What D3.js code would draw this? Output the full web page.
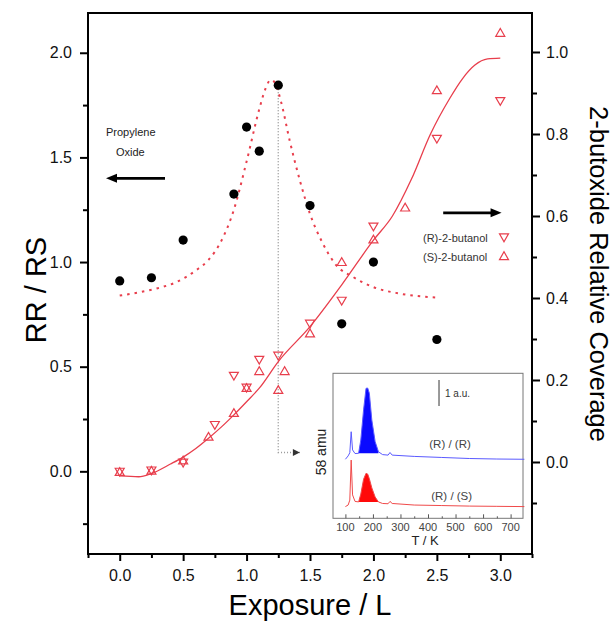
<!DOCTYPE html>
<html>
<head>
<meta charset="utf-8">
<script src="https://cdn.jsdelivr.net/npm/d3@7"></script>
<style>
  body { margin: 0; background: #fff; }
  text { font-family: "Liberation Sans", Arial, sans-serif; }
</style>
</head>
<body>
<div id="chart"></div>
<script>
// RR / RS ratio, black dots (left axis)
const ratioExposure = [0, 0.25, 0.5, 0.9, 1.0, 1.1, 1.25, 1.5, 1.75, 2.0, 2.5]
const ratioValues = [0.91, 0.925, 1.105, 1.325, 1.645, 1.53, 1.845, 1.27, 0.705, 1.0, 0.63]

// dotted fit through the ratio (left axis)
const ratioFitX = [0, 0.15, 0.3, 0.45, 0.6, 0.7, 0.8, 0.9, 1.0, 1.1, 1.15, 1.19, 1.22, 1.27, 1.34, 1.42, 1.5, 1.6, 1.7, 1.85, 2.0, 2.2, 2.5]
const ratioFitY = [0.84, 0.855, 0.875, 0.905, 0.96, 1.01, 1.1, 1.25, 1.48, 1.73, 1.83, 1.87, 1.86, 1.77, 1.58, 1.39, 1.23, 1.09, 0.99, 0.925, 0.88, 0.85, 0.83]

// (R)-2-butanol, down triangles (right axis)
const rExposure = [0, 0.25, 0.5, 0.75, 0.9, 1.0, 1.1, 1.25, 1.5, 1.75, 2.0, 2.5, 3.0]
const rCoverage = [-0.024, -0.021, -0.002, 0.09, 0.21, 0.181, 0.249, 0.259, 0.337, 0.393, 0.574, 0.788, 0.88]

// (S)-2-butanol, up triangles (right axis)
const sExposure = [0, 0.25, 0.5, 0.7, 0.9, 1.0, 1.1, 1.25, 1.3, 1.5, 1.75, 2.0, 2.25, 2.5, 3.0]
const sCoverage = [-0.024, -0.021, 0.004, 0.062, 0.12, 0.181, 0.222, 0.176, 0.222, 0.314, 0.488, 0.543, 0.621, 0.907, 1.047]

// solid fit through the coverage (right axis)
const coverFitX = [0, 0.15, 0.25, 0.4, 0.5, 0.6, 0.7, 0.8, 0.9, 1.0, 1.1, 1.25, 1.5, 1.75, 2.0, 2.15, 2.3, 2.45, 2.6, 2.7, 2.8, 2.9, 3.0]
const coverFitY = [-0.034, -0.036, -0.028, -0.005, 0.012, 0.033, 0.058, 0.085, 0.115, 0.147, 0.18, 0.245, 0.33, 0.432, 0.541, 0.6, 0.69, 0.8, 0.886, 0.934, 0.968, 0.983, 0.985]

// ticks
const xTicks = [0, 0.5, 1.0, 1.5, 2.0, 2.5, 3.0]
const xMinorTicks = [-0.25, 0.25, 0.75, 1.25, 1.75, 2.25, 2.75, 3.25]
const yLeftTicks = [0, 0.5, 1.0, 1.5, 2.0]
const yLeftMinorTicks = [-0.25, 0.25, 0.75, 1.25, 1.75]
const yRightTicks = [0, 0.2, 0.4, 0.6, 0.8, 1.0]
const yRightMinorTicks = [-0.1, 0.1, 0.3, 0.5, 0.7, 0.9]

// inset TPD traces, 58 amu (arbitrary units)
const tpdT = [100, 110, 116, 121, 126, 135, 148, 156, 166, 175, 181, 187, 196, 208, 220, 235, 255, 262, 270, 350, 450, 550, 650, 750]
const tpdRR = [2.27, 2.40, 2.52, 3.33, 2.63, 2.49, 2.50, 3.01, 4.17, 5.00, 5.01, 4.81, 3.78, 2.95, 2.56, 2.45, 2.43, 2.53, 2.43, 2.38, 2.34, 2.30, 2.28, 2.27]
const tpdRS = [0.45, 0.51, 0.70, 2.24, 0.90, 0.65, 0.63, 0.93, 1.50, 1.73, 1.70, 1.52, 1.17, 0.82, 0.63, 0.57, 0.56, 0.65, 0.57, 0.51, 0.49, 0.47, 0.46, 0.45]
const tpdTicks = [100, 200, 300, 400, 500, 600, 700]
const tpdMinorTicks = [150, 250, 350, 450, 550, 650]
const fillRangeRR = [148, 220]
const fillRangeRS = [148, 220]

const red = '#e83e4c'

const svg = d3.select('#chart').append('svg')
  .attr('width', 614)
  .attr('height', 627)

const plot = { left: 88, right: 532, top: 13, bottom: 554 }

const x = d3.scaleLinear().domain([-0.25, 3.25]).range([plot.left, plot.right])
const yL = d3.scaleLinear().domain([-0.395, 2.19]).range([plot.bottom, plot.top])
const yR = d3.scaleLinear().domain([-0.2244, 1.0951]).range([plot.bottom, plot.top])

// axes (major + minor)
const fmt = d3.format('.1f')
function styleAxis(g) {
  g.select('.domain').remove()
  g.selectAll('line').attr('stroke', '#000').attr('stroke-width', 2)
  g.selectAll('text').attr('font-size', '16px').attr('fill', '#111')
    .style('font-family', '"Liberation Sans", Arial, sans-serif')
}
svg.append('g').attr('transform', `translate(0,${plot.bottom})`)
  .call(d3.axisBottom(x).tickValues(xTicks).tickFormat(fmt).tickSize(7).tickPadding(9)).call(styleAxis)
svg.append('g').attr('transform', `translate(0,${plot.bottom})`)
  .call(d3.axisBottom(x).tickValues(xMinorTicks).tickFormat('').tickSize(4)).call(styleAxis)
svg.append('g').attr('transform', `translate(${plot.left},0)`)
  .call(d3.axisLeft(yL).tickValues(yLeftTicks).tickFormat(fmt).tickSize(8).tickPadding(8)).call(styleAxis)
svg.append('g').attr('transform', `translate(${plot.left},0)`)
  .call(d3.axisLeft(yL).tickValues(yLeftMinorTicks).tickFormat('').tickSize(5)).call(styleAxis)
svg.append('g').attr('transform', `translate(${plot.right},0)`)
  .call(d3.axisRight(yR).tickValues(yRightTicks).tickFormat(fmt).tickSize(8).tickPadding(6)).call(styleAxis)
svg.append('g').attr('transform', `translate(${plot.right},0)`)
  .call(d3.axisRight(yR).tickValues(yRightMinorTicks).tickFormat('').tickSize(5)).call(styleAxis)

// frame
svg.append('rect')
  .attr('x', plot.left).attr('y', plot.top)
  .attr('width', plot.right - plot.left).attr('height', plot.bottom - plot.top)
  .attr('fill', 'none').attr('stroke', '#000').attr('stroke-width', 2)

// axis titles
svg.append('text')
  .attr('transform', 'translate(46,290) rotate(-90)')
  .attr('text-anchor', 'middle').attr('font-size', '29px')
  .text('RR / RS')
svg.append('text')
  .attr('x', 310).attr('y', 615)
  .attr('text-anchor', 'middle').attr('font-size', '29px')
  .text('Exposure / L')
svg.append('text')
  .attr('transform', 'translate(590,274) rotate(90)')
  .attr('text-anchor', 'middle').attr('font-size', '25.5px')
  .text('2-butoxide Relative Coverage')

// gray guide from the peak down to the inset
const guideX = [1.25, 1.25, 1.42]
const guideY = [1.84, 0.09, 0.09]
svg.append('path')
  .attr('d', d3.line().x((d, i) => x(guideX[i])).y(d => yL(d))(guideY))
  .attr('fill', 'none').attr('stroke', '#999').attr('stroke-width', 1.5)
  .attr('stroke-dasharray', '1,2')
svg.append('path')
  .attr('d', `M${x(1.42)},${yL(0.09)} l-7,-3.5 l0,7 z`)
  .attr('fill', '#333')

// dotted ratio fit
svg.append('path')
  .attr('d', d3.line().curve(d3.curveMonotoneX).x((d, i) => x(ratioFitX[i])).y(d => yL(d))(ratioFitY))
  .attr('fill', 'none').attr('stroke', red).attr('stroke-width', 2)
  .attr('stroke-dasharray', '2.5,5')

// solid coverage fit
svg.append('path')
  .attr('d', d3.line().curve(d3.curveMonotoneX).x((d, i) => x(coverFitX[i])).y(d => yR(d))(coverFitY))
  .attr('fill', 'none').attr('stroke', red).attr('stroke-width', 1.3)

// triangle markers
const triDown = 'M-4.5,-3.6 L4.5,-3.6 L0,4.2 Z'
const triUp = 'M-4.5,3.6 L4.5,3.6 L0,-4.2 Z'
svg.append('g').selectAll('path')
  .data(rCoverage)
  .enter().append('path')
  .attr('transform', (d, i) => `translate(${x(rExposure[i])},${yR(d)})`)
  .attr('d', triDown)
  .attr('fill', 'none').attr('stroke', red).attr('stroke-width', 1.2)
svg.append('g').selectAll('path')
  .data(sCoverage)
  .enter().append('path')
  .attr('transform', (d, i) => `translate(${x(sExposure[i])},${yR(d)})`)
  .attr('d', triUp)
  .attr('fill', 'none').attr('stroke', red).attr('stroke-width', 1.2)

// black dots
svg.append('g').selectAll('circle')
  .data(ratioValues)
  .enter().append('circle')
  .attr('cx', (d, i) => x(ratioExposure[i]))
  .attr('cy', d => yL(d))
  .attr('r', 4.6)
  .attr('fill', '#000')

// Propylene oxide label + arrow
svg.append('text').attr('x', 106).attr('y', 136).attr('font-size', '11px').attr('fill', '#222').text('Propylene')
svg.append('text').attr('x', 116).attr('y', 156).attr('font-size', '11px').attr('fill', '#222').text('Oxide')
svg.append('line')
  .attr('x1', x(0.357)).attr('x2', x(-0.07)).attr('y1', yL(1.40)).attr('y2', yL(1.40))
  .attr('stroke', '#000').attr('stroke-width', 2.6)
svg.append('path')
  .attr('d', `M${x(-0.108)},${yL(1.40)} l11,-4.5 l0,9 z`).attr('fill', '#000')

// arrow to the right axis
svg.append('line')
  .attr('x1', x(2.55)).attr('x2', x(2.97)).attr('y1', yL(1.235)).attr('y2', yL(1.235))
  .attr('stroke', '#000').attr('stroke-width', 2.6)
svg.append('path')
  .attr('d', `M${x(3.01)},${yL(1.235)} l-11,-4.5 l0,9 z`).attr('fill', '#000')

// legend
const legend = svg.append('g')
legend.append('text').attr('x', 423).attr('y', 241.7).attr('font-size', '11px').attr('fill', '#333').text('(R)-2-butanol')
legend.append('text').attr('x', 423).attr('y', 261).attr('font-size', '11px').attr('fill', '#333').text('(S)-2-butanol')
legend.append('path').attr('transform', 'translate(504,237.5)').attr('d', triDown)
  .attr('fill', 'none').attr('stroke', red).attr('stroke-width', 1.2)
legend.append('path').attr('transform', 'translate(504,256)').attr('d', triUp)
  .attr('fill', 'none').attr('stroke', red).attr('stroke-width', 1.2)

// ---- inset: TPD of 58 amu ----
const ix = d3.scaleLinear().domain([55, 745]).range([333, 523])
const iy = d3.scaleLinear().domain([0, 5.577]).range([518.3, 373.3])

svg.append('rect')
  .attr('x', 333).attr('y', 373.3).attr('width', 190).attr('height', 145)
  .attr('fill', '#fff').attr('stroke', '#777').attr('stroke-width', 1)

const inset = svg.append('g')
inset.append('g').attr('transform', 'translate(0,518.3)')
  .call(d3.axisTop(ix).tickValues(tpdTicks).tickFormat('').tickSize(4))
  .call(g => { g.select('.domain').remove(); g.selectAll('line').attr('stroke', '#555') })
inset.append('g').attr('transform', 'translate(0,518.3)')
  .call(d3.axisTop(ix).tickValues(tpdMinorTicks).tickFormat('').tickSize(2))
  .call(g => { g.select('.domain').remove(); g.selectAll('line').attr('stroke', '#555') })
inset.selectAll('.tpd-label')
  .data(tpdTicks)
  .enter().append('text')
  .attr('x', d => ix(d)).attr('y', 531)
  .attr('text-anchor', 'middle').attr('font-size', '11px').attr('fill', '#444')
  .text(d => d)

// one trace: thin line plus the filled desorption peak
function drawTrace(values, range, lineColor, fillColor) {
  const pts = tpdT.map((t, i) => [t, values[i]])
  const inFill = pts.filter(p => p[0] >= range[0] && p[0] <= range[1])
  const y0 = inFill[0][1]
  inset.append('path')
    .attr('d', d3.area().x(p => ix(p[0])).y0(iy(y0)).y1(p => iy(p[1]))(inFill))
    .attr('fill', fillColor)
  inset.append('path')
    .attr('d', d3.line().x(p => ix(p[0])).y(p => iy(p[1]))(pts))
    .attr('fill', 'none').attr('stroke', lineColor).attr('stroke-width', 1)
}
drawTrace(tpdRR, fillRangeRR, '#5a5aff', '#0a0aff')
drawTrace(tpdRS, fillRangeRS, '#f04a4a', '#ff0a0a')

inset.append('text').attr('x', ix(480)).attr('y', iy(2.70)).attr('text-anchor', 'middle')
  .attr('font-size', '11.5px').attr('fill', '#444').text('(R) / (R)')
inset.append('text').attr('x', ix(486)).attr('y', iy(0.70)).attr('text-anchor', 'middle')
  .attr('font-size', '11.5px').attr('fill', '#444').text('(R) / (S)')

// 1 a.u. scale bar
inset.append('line')
  .attr('x1', ix(440)).attr('x2', ix(440)).attr('y1', iy(4.32)).attr('y2', iy(5.32))
  .attr('stroke', '#555').attr('stroke-width', 1.2)
inset.append('text').attr('x', ix(440) + 6).attr('y', 397).attr('font-size', '10px').attr('fill', '#333').text('1 a.u.')

inset.append('text').attr('x', 425).attr('y', 545).attr('text-anchor', 'middle')
  .attr('font-size', '13px').attr('fill', '#222').text('T / K')
inset.append('text').attr('transform', 'translate(326,452) rotate(-90)').attr('text-anchor', 'middle')
  .attr('font-size', '14px').attr('fill', '#222').text('58 amu')
</script>
</body>
</html>
